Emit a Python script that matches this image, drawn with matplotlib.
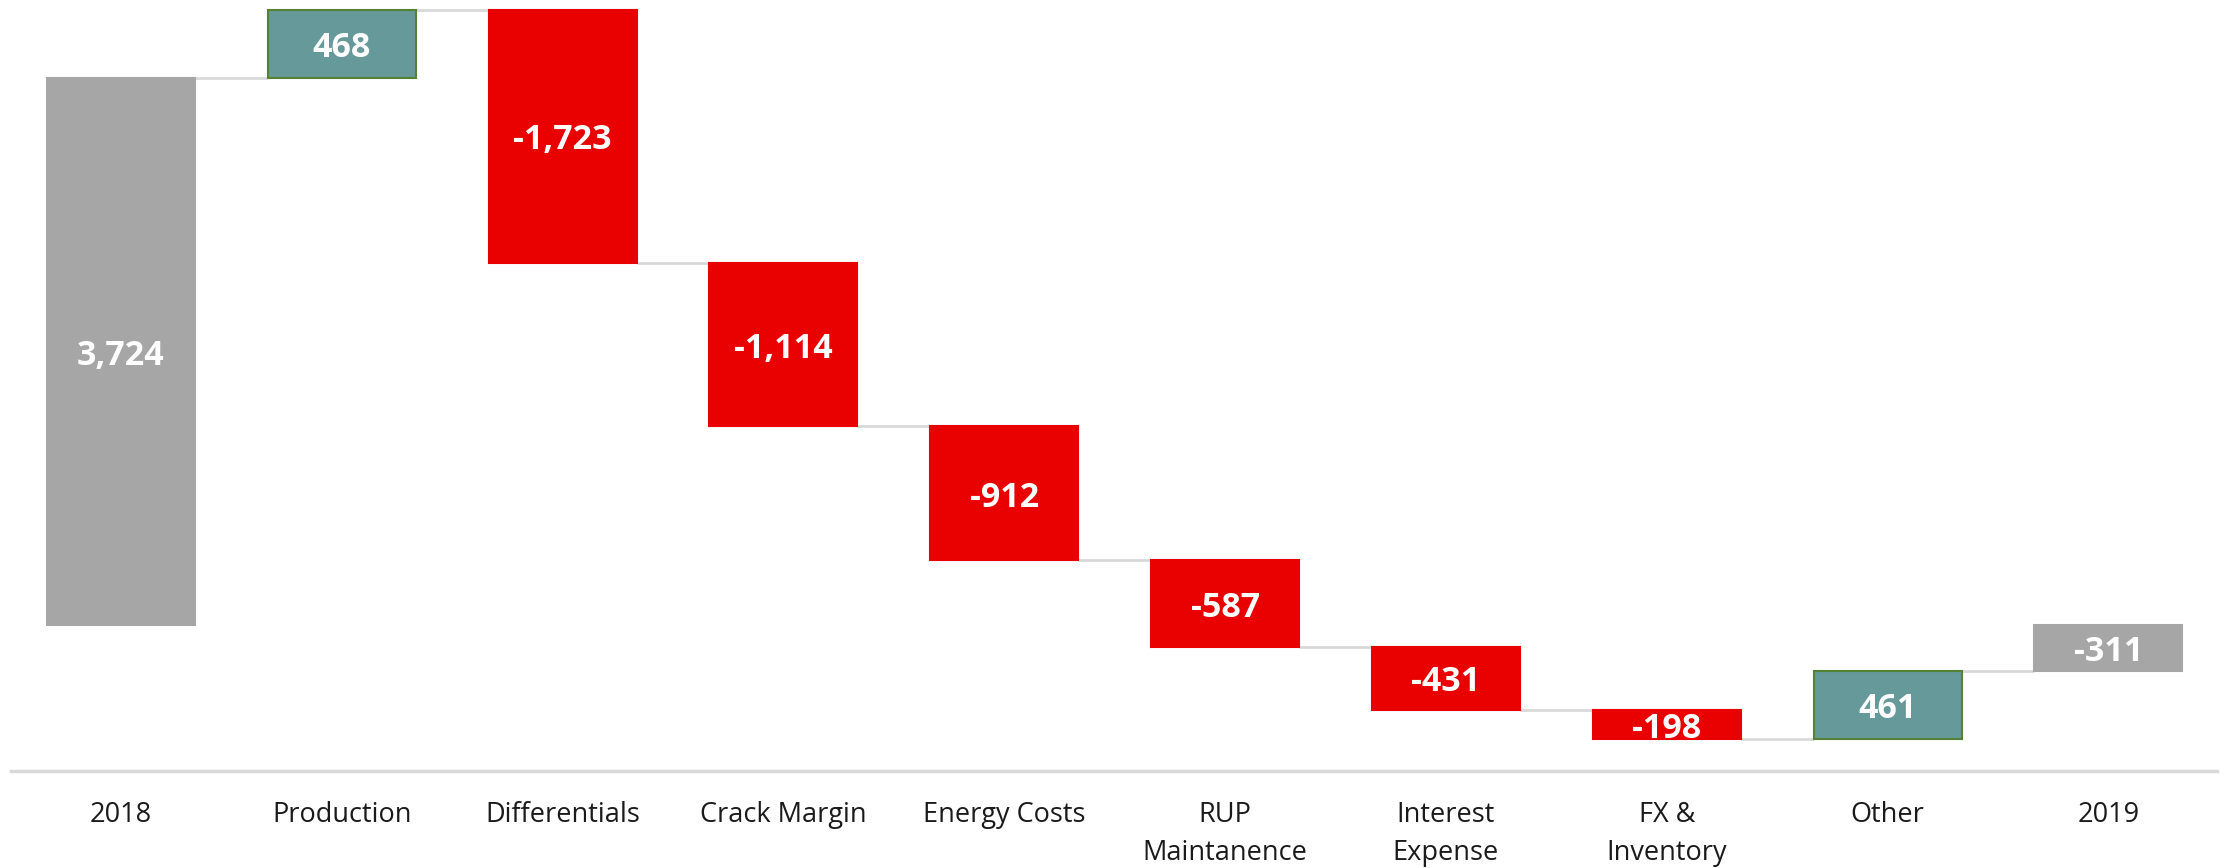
import matplotlib
matplotlib.use("Agg")
import matplotlib.pyplot as plt
import numpy as np

plt.rcParams["font.family"] = ["Open Sans", "DejaVu Sans"]

# chart data
categories = ["2018", "Production", "Differentials", "Crack Margin", "Energy Costs",
              "RUP\nMaintanence", "Interest\nExpense", "FX &\nInventory", "Other", "2019"]
start_total = 3724
changes = [468, -1723, -1114, -912, -587, -431, -198, 461]
end_total = -311

GRAY = "#A6A6A6"
RED = "#E90000"
TEAL = "#669999"
TEAL_EDGE = "#548235"
LINE = "#D9D9D9"

# build bottoms / heights for the waterfall
bottoms, heights, colors, edges = [0], [start_total], [GRAY], [GRAY]
level = start_total
for c in changes:
    bottoms.append(level)
    heights.append(c)
    colors.append(TEAL if c > 0 else RED)
    edges.append(TEAL_EDGE if c > 0 else RED)
    level += c
bottoms.append(0)
heights.append(end_total)
colors.append(GRAY)
edges.append(GRAY)

x = np.arange(len(categories))
width = 0.67

fig = plt.figure(figsize=(22.39, 8.68), dpi=100)
ax = fig.add_axes([0.005, 0.112, 0.985, 0.888])

bars = ax.bar(x, heights, bottom=bottoms, width=width, color=colors,
              edgecolor=edges, linewidth=1.5, zorder=3)

# connectors between consecutive bars
for i in range(len(x) - 1):
    end = bottoms[i] + heights[i]
    ax.plot([x[i] + width / 2, x[i + 1] - width / 2], [end, end],
            color=LINE, lw=2, zorder=2, solid_capstyle="butt")

# value labels
for i in range(len(x)):
    ax.annotate(f"{heights[i]:,}", (x[i], bottoms[i] + heights[i] / 2),
                xytext=(0, -3), textcoords="offset points",
                ha="center", va="center", color="white", fontsize=24.5,
                fontweight="bold", zorder=4)

ax.set_xlim(-0.497, 9.49)
ax.set_ylim(-990, 4258)
ax.set_xticks(x)
ax.set_xticklabels(categories, fontsize=19.5, color="#1a1a1a", linespacing=1.46, va="top")
ax.tick_params(axis="x", length=0, pad=22)
ax.set_yticks([])
for side in ["top", "left", "right"]:
    ax.spines[side].set_visible(False)
ax.spines["bottom"].set_color(LINE)
ax.spines["bottom"].set_linewidth(2.5)

fig.savefig("out.png", dpi=100, facecolor="white")
